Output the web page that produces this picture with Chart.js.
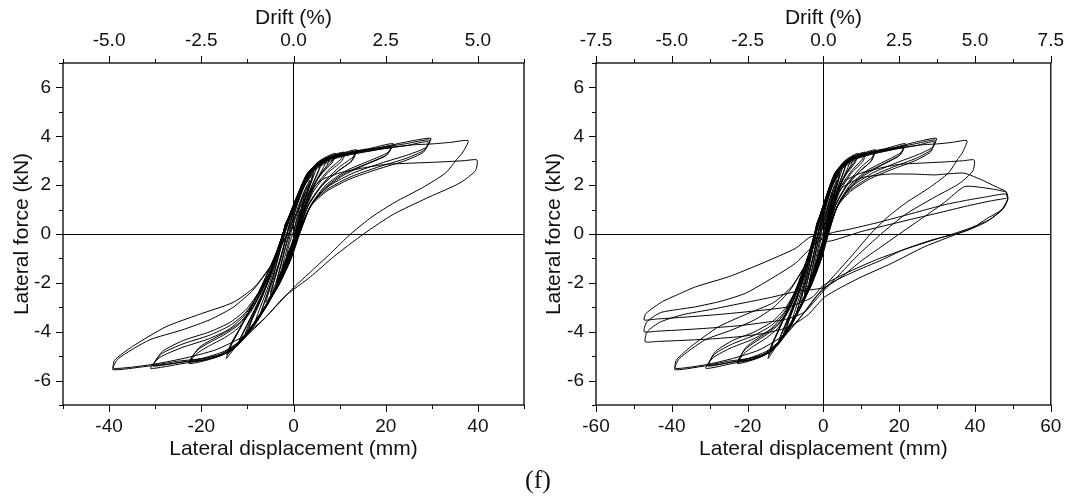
<!DOCTYPE html>
<html>
<head>
<meta charset="utf-8">
<script src="https://cdn.jsdelivr.net/npm/chart.js@4.4.1/dist/chart.umd.min.js"></script>
<style>
    html, body { margin: 0; padding: 0; background: #fff; }
    #page { position: relative; width: 1075px; height: 503px; overflow: hidden; }
    canvas { position: absolute; top: 0; }
    #left { left: 0; }
    #right { left: 535px; }
    #caption {
        position: absolute; left: 488px; width: 100px; top: 465px;
        text-align: center; font-family: 'Liberation Serif', 'Times New Roman', serif;
        font-size: 26px; color: #111;
    }
</style>
</head>
<body>
<div id="page">
    <canvas id="left" width="535" height="503"></canvas>
    <canvas id="right" width="540" height="503"></canvas>
    <div id="caption">(f)</div>
</div>
<script>
// Hysteresis loops, [lateral displacement (mm), lateral force (kN)], one array per cycle.
// Cycles up to about 40 mm (shown in both panels).
const cyclesTo40 = [
    [[0,0],[0.8,0.6],[1.5,1.0],[0.9,0.5],[0,-0.2],[-0.8,-0.6],[-1.5,-0.9],[-0.9,-0.4],[0,0.1]],
    [[0,0.1],[1.2,1.0],[2.5,1.7],[1.8,1.1],[0.4,0],[-1,-0.7],[-2.5,-1.4],[-1.7,-0.8],[-0.5,0.1]],
    [[-0.5,0.1],[1,1.0],[2.3,1.7],[3.5,2.2],[2.7,1.6],[1,0.4],[-0.3,-0.4],[-2,-1.2],[-3.6,-1.9],[-2.7,-1.2],[-1.2,-0.1],[-0.6,0.3]],
    [[-0.5,0.2],[0.8,1.0],[2,1.6],[3,2.0],[2.3,1.5],[0.8,0.4],[-0.6,-0.6],[-2.2,-1.4],[-3.8,-2.0],[-3,-1.5],[-1.5,-0.4],[-0.5,0.2]],
    [[-0.6,0.3],[0.8,1.2],[2.5,2.0],[4.4,2.55],[3.6,2.1],[2,1.1],[0.3,-0.2],[-1.5,-1.0],[-3.5,-1.9],[-5,-2.4],[-4.2,-1.9],[-2.5,-0.8],[-1,0.3]],
    [[-1,0.3],[0.6,1.2],[2.4,2.0],[4.3,2.45],[3.5,2.0],[1.8,1.0],[0.2,-0.3],[-1.6,-1.1],[-3.5,-2.0],[-5,-2.5],[-4.3,-2.0],[-2.6,-0.9],[-1.2,0.2]],
    [[-0.8,0.2],[0.6,1.1],[2.6,2.1],[5,2.7],[4.2,2.3],[2.4,1.3],[0.5,0],[-1.5,-1.1],[-4,-2.2],[-6,-2.8],[-5.2,-2.3],[-3.2,-1.2],[-1.3,0.1]],
    [[-1.2,0.2],[0.5,1.2],[2.5,2.2],[4.5,2.75],[6.2,3.0],[5.4,2.6],[3.6,1.8],[1.4,0.5],[-0.8,-0.8],[-3,-1.9],[-5.5,-2.8],[-7,-3.2],[-6.3,-2.8],[-4.2,-1.6],[-1.8,0.1]],
    [[-1.8,0.1],[0.2,1.1],[2.4,2.2],[4.5,2.7],[6,2.9],[5.3,2.5],[3.4,1.7],[1.2,0.4],[-1,-0.9],[-3.2,-2.0],[-5.6,-2.9],[-7.2,-3.3],[-6.5,-2.9],[-4.4,-1.7],[-2,0]],
    [[-1.3,0.1],[0.3,1.1],[2.5,2.2],[5,2.8],[7.2,3.05],[6.4,2.7],[4.2,1.9],[1.8,0.7],[-0.5,-0.7],[-3,-1.9],[-6,-3.0],[-8.5,-3.7],[-7.6,-3.2],[-5.2,-2.0],[-2.6,-0.4],[-1.6,0.2]],
    [[-1.6,0.2],[0.2,1.2],[2.6,2.3],[5.2,2.85],[8,3.15],[7.2,2.8],[4.8,2.1],[2.2,0.9],[0,-0.5],[-2.6,-1.7],[-5.8,-2.9],[-8.6,-3.7],[-9.8,-4.0],[-9,-3.5],[-6.4,-2.4],[-3.4,-0.8],[-1.8,0.2]],
    [[-2,0],[0,1.1],[2.5,2.3],[5,2.9],[7,3.15],[9.1,3.3],[8.4,3.0],[6,2.5],[3.5,1.7],[1.5,0.6],[0,-0.4],[-2,-1.4],[-5,-2.6],[-8,-3.5],[-10.5,-4.1],[-9.8,-3.75],[-7.5,-2.8],[-5,-1.7],[-3,-0.5],[-2,0.1]],
    [[-2,0.1],[0,1.1],[2.6,2.3],[5.2,2.9],[7.2,3.1],[9,3.2],[8.3,2.9],[5.8,2.4],[3.3,1.6],[1.3,0.5],[-0.2,-0.5],[-2.2,-1.5],[-5.2,-2.7],[-8.2,-3.6],[-10.5,-4.2],[-9.7,-3.8],[-7.3,-2.8],[-4.8,-1.6],[-2.8,-0.4],[-2,0.1]],
    [[-2,0.1],[0,1.15],[2.8,2.4],[5.5,2.95],[8,3.2],[11,3.35],[10.2,3.05],[7.5,2.6],[4.5,1.9],[2,0.8],[0,-0.5],[-2.4,-1.6],[-5.5,-2.8],[-8.5,-3.7],[-11,-4.3],[-12.3,-4.6],[-11.4,-4.2],[-9,-3.3],[-6,-2.1],[-3.2,-0.6],[-2.1,0.15]],
    [[-1.8,0.2],[0.2,1.2],[3,2.45],[6,3.0],[8.5,3.2],[11.2,3.3],[10.3,2.95],[7.4,2.5],[4.2,1.7],[1.7,0.6],[-0.2,-0.6],[-2.8,-1.8],[-6,-3.0],[-9,-3.9],[-11.8,-4.5],[-11,-4.1],[-8.6,-3.2],[-5.6,-2.0],[-3,-0.5],[-2,0.2]],
    [[-2.1,0.15],[0,1.2],[3,2.5],[6,3.0],[9.5,3.25],[13.7,3.45],[12.9,3.15],[10,2.75],[6.5,2.1],[3.5,1.3],[1.2,0.2],[-0.5,-0.8],[-3,-1.9],[-6,-2.9],[-9.5,-3.9],[-12.5,-4.6],[-14.6,-5.1],[-13.6,-4.6],[-12,-4.0],[-10,-3.3],[-7,-2.2],[-4,-0.9],[-2,0.2]],
    [[-2,0.2],[0.2,1.3],[3.2,2.5],[6.5,3.0],[10,3.2],[13.5,3.35],[12.7,3.0],[9.8,2.6],[6.3,2.0],[3.3,1.2],[1,0.1],[-0.7,-0.9],[-3.2,-2.0],[-6.2,-3.0],[-9.8,-4.0],[-12.5,-4.6],[-14.5,-4.95],[-13.5,-4.5],[-11.8,-3.95],[-9.8,-3.25],[-6.8,-2.1],[-3.8,-0.8],[-1.8,0.3]],
    [[-2,0.2],[0.4,1.35],[3.4,2.55],[6.8,3.0],[10.3,3.2],[13.3,3.3],[12.4,2.95],[9.5,2.55],[6,1.95],[3,1.1],[0.7,0],[-1,-1.0],[-3.5,-2.1],[-6.6,-3.1],[-10,-4.0],[-12.8,-4.6],[-14.3,-4.85],[-13.3,-4.4],[-11.6,-3.85],[-9.6,-3.15],[-6.6,-2.0],[-3.6,-0.7],[-1.8,0.3]],
    [[-1.8,0.3],[0.5,1.4],[3.5,2.6],[7.5,3.1],[12,3.35],[16.5,3.5],[21.6,3.7],[20.6,3.35],[16.5,3.0],[11.5,2.6],[7,2.0],[3.8,1.2],[1.5,0.1],[-0.5,-1.0],[-3,-2.0],[-6.5,-3.1],[-10,-4.1],[-13,-4.7],[-16,-5.0],[-19.5,-5.2],[-22.7,-5.3],[-21,-4.9],[-18.5,-4.6],[-15,-4.25],[-12,-3.85],[-9,-3.1],[-6,-2.0],[-3,-0.5],[-1.5,0.4]],
    [[-1.5,0.4],[0.8,1.5],[3.8,2.6],[8,3.1],[12.5,3.3],[17,3.45],[21.3,3.6],[20.3,3.25],[16.2,2.9],[11.2,2.5],[6.8,1.9],[3.6,1.1],[1.3,0],[-0.7,-1.1],[-3.2,-2.1],[-6.8,-3.2],[-10.3,-4.15],[-13.3,-4.75],[-16.3,-5.0],[-19.5,-5.15],[-22.5,-5.2],[-20.8,-4.75],[-18.3,-4.45],[-14.8,-4.1],[-11.8,-3.7],[-8.8,-3.0],[-5.8,-1.9],[-2.8,-0.4],[-1.3,0.45]],
    [[-1.8,0.3],[0.6,1.4],[3.6,2.55],[7.8,3.05],[12.3,3.25],[16.8,3.4],[21,3.52],[20,3.2],[15.8,2.85],[10.8,2.4],[6.5,1.8],[3.3,1.0],[1,-0.1],[-1,-1.2],[-3.6,-2.2],[-7.2,-3.3],[-10.6,-4.2],[-13.6,-4.75],[-16.6,-4.98],[-19.6,-5.1],[-22.2,-5.15],[-20.5,-4.65],[-18,-4.35],[-14.5,-4.0],[-11.5,-3.6],[-8.6,-2.9],[-5.6,-1.8],[-2.6,-0.3],[-1.4,0.4]],
    [[-1.3,0.45],[1,1.5],[4,2.6],[8.5,3.15],[14,3.4],[19,3.55],[24,3.75],[29.8,3.92],[28.8,3.55],[25,3.25],[19,2.9],[13,2.5],[8,2.0],[4.5,1.4],[2,0.5],[0,-0.6],[-2.8,-1.9],[-7.5,-3.4],[-11.5,-4.4],[-15,-4.9],[-19,-5.15],[-24,-5.3],[-31,-5.5],[-29,-5.05],[-24.2,-4.65],[-18.5,-4.3],[-14,-3.9],[-10.5,-3.3],[-7,-2.3],[-3.5,-0.9],[-1.8,0.3]],
    [[-1.8,0.3],[0.8,1.5],[4,2.6],[9,3.15],[14.5,3.4],[19.5,3.55],[24.5,3.7],[29.5,3.85],[28.5,3.45],[24.5,3.1],[18.5,2.75],[12.5,2.35],[7.5,1.85],[4.2,1.3],[1.8,0.4],[-0.2,-0.7],[-3,-2.0],[-7.8,-3.5],[-11.8,-4.45],[-15.5,-4.95],[-19.5,-5.15],[-24.5,-5.25],[-30.5,-5.4],[-28.6,-4.9],[-24,-4.5],[-18.3,-4.15],[-13.8,-3.75],[-10.3,-3.2],[-6.8,-2.2],[-3.4,-0.8],[-1.8,0.4]],
    [[-1.8,0.4],[0.9,1.45],[4.1,2.55],[9.2,3.1],[14.8,3.35],[19.8,3.5],[24.6,3.62],[29.2,3.78],[28.2,3.35],[24.2,3.0],[18.2,2.65],[12.2,2.25],[7.2,1.75],[4,1.2],[1.6,0.3],[-0.4,-0.8],[-3.2,-2.1],[-8,-3.55],[-12,-4.45],[-15.8,-4.92],[-19.8,-5.1],[-24.8,-5.2],[-30.2,-5.33],[-28.4,-4.8],[-23.8,-4.35],[-18.1,-4.0],[-13.6,-3.6],[-10.1,-3.05],[-6.6,-2.1],[-3.2,-0.7],[-1.8,0.4]],
    [[-1.8,0.4],[1,1.5],[4.2,2.6],[9,3.15],[15,3.4],[21,3.55],[26,3.65],[30.2,3.69],[34,3.75],[37.9,3.82],[36.6,3.31],[35.6,3.1],[33,2.5],[28,1.9],[22,1.3],[17,0.7],[12.4,0],[8,-0.8],[4,-1.5],[0,-2.2],[-3,-2.8],[-7,-3.6],[-11,-4.3],[-15,-4.8],[-20,-5.1],[-26,-5.3],[-32,-5.42],[-39.2,-5.55],[-38,-5.1],[-31.3,-4.34],[-24.2,-3.93],[-18,-3.5],[-13.1,-3.0],[-8.8,-2.3],[-4.5,-1.2],[-2.2,-0.3]],
    [[-2.2,-0.3],[0,0.6],[3,1.6],[6,2.2],[10,2.5],[15,2.7],[20,2.85],[25.5,2.9],[32,2.95],[37,3.0],[39.8,3.03],[39.5,2.6],[37,2.2],[35.2,2.0],[28.8,1.46],[21.6,0.8],[15.2,0],[8.7,-0.93],[3.7,-1.75],[-2,-2.57],[-6,-3.4],[-11,-4.2],[-17,-4.75],[-24,-5.1],[-31,-5.35],[-39,-5.5],[-38.8,-5.16],[-34.9,-4.6],[-27.7,-3.8],[-20.6,-3.3],[-13.1,-2.8],[-8.4,-2.16],[-4.1,-1.07],[-2,-0.25],[0,0.3]]
];

// Further cycles to about 48 mm (second panel only).
const cyclesTo48 = [
    [[0,0.3],[2,1.2],[5,1.9],[10,2.3],[17,2.45],[24,2.45],[29.4,2.42],[33.5,2.47],[37.2,2.49],[42,2.2],[46,1.9],[48.2,1.73],[48.6,1.39],[46.9,0.98],[43,0.62],[39.9,0.3],[34.6,-0.04],[26.7,-0.52],[18,-1.2],[9.2,-1.82],[0.4,-2.57],[-4,-3.3],[-9,-3.8],[-15,-4.05],[-22,-4.2],[-30,-4.3],[-38,-4.36],[-44,-4.4],[-47,-4.41],[-46.5,-4.0],[-43,-3.6],[-37,-3.3],[-30,-3.1],[-22,-2.85],[-14,-2.6],[-7,-2.35],[0,-2.2],[4.8,-1.75],[10,-1.1],[15,-0.55],[21.5,0.16],[27,0.75],[32,1.3],[37.2,1.94],[42,1.9],[46,1.8],[48.3,1.72]],
    [[48.3,1.72],[48.7,1.45],[47.5,1.05],[43,0.5],[37.2,0.1],[28.5,-0.25],[21,-0.65],[15.3,-1.07],[8,-1.55],[2.2,-2.0],[-1.3,-2.57],[-5,-3.2],[-10,-3.5],[-14.5,-3.6],[-22,-3.75],[-30,-3.85],[-38,-3.93],[-44,-3.98],[-47.3,-4.0],[-46.6,-3.6],[-43,-3.22],[-38,-3.08],[-33.7,-2.98],[-27,-2.75],[-20.6,-2.43],[-14,-1.85],[-7.4,-1.2],[-3.5,-0.6],[1.3,0.0],[7,0.2],[13.6,0.44],[20,0.7],[26.7,0.98],[32,1.2],[38.1,1.39],[43,1.52],[48.2,1.64],[48.6,1.4]],
    [[48.6,1.4],[47.2,1.0],[44,0.6],[38,0.2],[30,-0.2],[22,-0.6],[14,-1.05],[6,-1.6],[0,-2.1],[-3,-2.6],[-9.2,-2.98],[-18,-3.15],[-28,-3.3],[-38,-3.42],[-44,-3.48],[-47.3,-3.52],[-46.8,-3.25],[-42.5,-2.77],[-38,-2.45],[-33.7,-2.16],[-25,-1.75],[-16.2,-1.2],[-7.4,-0.59],[-3.1,-0.1],[1.3,-0.3],[10,0.1],[22.3,0.57],[30,0.85],[38,1.15],[44,1.35],[48.2,1.46]]
];

// Axis ranges (mm, kN); drift = displacement / 800 mm specimen height
const leftDispRange = [-50, 50];
const rightDispRange = [-60, 60];
const forceRange = [-7, 7];
const DRIFT_PER_MM = 100 / 800;

Chart.defaults.font.family = "'Liberation Sans', Arial, sans-serif";
Chart.defaults.color = '#111';

const TICK_FONT = { size: 19 };
const TITLE_FONT = { size: 21 };

const isMultiple = (v, step) => Math.abs(v / step - Math.round(v / step)) < 1e-6;
const zeroLine = (ctx) => (ctx.tick && Math.abs(ctx.tick.value) < 1e-9 ? '#000' : 'rgba(0,0,0,0)');

// box around the plot area plus major/minor tick marks
const frame = {
    id: 'frame',
    afterDraw(chart) {
        const { ctx, chartArea: a, scales } = chart;
        ctx.save();
        ctx.strokeStyle = '#000';
        ctx.lineWidth = 1.3;
        ctx.strokeRect(a.left, a.top, a.right - a.left, a.bottom - a.top);
        ctx.lineWidth = 1;
        ctx.beginPath();
        scales.x.ticks.forEach(t => {
            const px = Math.round(scales.x.getPixelForValue(t.value)) + 0.5;
            const len = t.label !== '' ? 7 : 4;
            ctx.moveTo(px, a.bottom);
            ctx.lineTo(px, a.bottom + len);
        });
        scales.drift.ticks.forEach(t => {
            const px = Math.round(scales.drift.getPixelForValue(t.value)) + 0.5;
            const len = t.label !== '' ? 7 : 4;
            ctx.moveTo(px, a.top);
            ctx.lineTo(px, a.top - len);
        });
        scales.y.ticks.forEach(t => {
            const py = Math.round(scales.y.getPixelForValue(t.value)) + 0.5;
            const len = t.label !== '' ? 7 : 4;
            ctx.moveTo(a.left, py);
            ctx.lineTo(a.left - len, py);
        });
        ctx.stroke();
        ctx.restore();
    }
};

function buildChart(canvasId, cycles, dispRange, opts) {
    const datasets = cycles.map(cycle => ({
        data: cycle.map(([x, y]) => ({ x, y })),
        showLine: true,
        borderColor: '#000',
        borderWidth: 1,
        pointRadius: 0,
        tension: 0.2
    }));

    return new Chart(document.getElementById(canvasId).getContext('2d'), {
        type: 'scatter',
        data: { datasets },
        plugins: [frame],
        options: {
            responsive: false,
            animation: false,
            layout: { padding: { left: 0, right: opts.padRight, top: 0, bottom: 0 } },
            plugins: { legend: { display: false }, tooltip: { enabled: false } },
            scales: {
                x: {
                    type: 'linear',
                    position: 'bottom',
                    min: dispRange[0],
                    max: dispRange[1],
                    ticks: {
                        stepSize: 10,
                        autoSkip: false,
                        maxRotation: 0,
                        padding: 10,
                        font: TICK_FONT,
                        callback: v => (isMultiple(v, 20) ? String(Math.round(v)) : '')
                    },
                    grid: { drawTicks: false, color: zeroLine, lineWidth: 1 },
                    border: { display: false },
                    title: {
                        display: true,
                        text: 'Lateral displacement (mm)',
                        font: TITLE_FONT,
                        padding: { top: 0, bottom: 41 }
                    },
                    afterFit: s => { s.height = 98; }
                },
                drift: {
                    type: 'linear',
                    position: 'top',
                    min: dispRange[0] * DRIFT_PER_MM,
                    max: dispRange[1] * DRIFT_PER_MM,
                    ticks: {
                        stepSize: 1.25,
                        autoSkip: false,
                        maxRotation: 0,
                        padding: 11,
                        font: TICK_FONT,
                        callback: v => (isMultiple(v, 2.5) ? v.toFixed(1) : '')
                    },
                    grid: { display: false, drawTicks: false },
                    border: { display: false },
                    title: {
                        display: true,
                        text: 'Drift (%)',
                        font: TITLE_FONT,
                        padding: { top: 6, bottom: 0 }
                    },
                    afterFit: s => { s.height = 63; }
                },
                y: {
                    type: 'linear',
                    position: 'left',
                    min: forceRange[0],
                    max: forceRange[1],
                    ticks: {
                        stepSize: 1,
                        autoSkip: false,
                        padding: 12,
                        font: TICK_FONT,
                        callback: v => (isMultiple(v, 2) ? String(Math.round(v)) : '')
                    },
                    grid: { drawTicks: false, color: zeroLine, lineWidth: 1 },
                    border: { display: false },
                    title: {
                        display: true,
                        text: 'Lateral force (kN)',
                        font: TITLE_FONT,
                        padding: { top: opts.titlePad, bottom: 0 }
                    },
                    afterFit: s => { s.width = opts.axisWidth; }
                }
            }
        }
    });
}

buildChart('left', cyclesTo40, leftDispRange, { padRight: 6, axisWidth: 63, titlePad: 10 });
buildChart('right', cyclesTo40.concat(cyclesTo48), rightDispRange, { padRight: 22, axisWidth: 61, titlePad: 7 });
</script>
</body>
</html>
